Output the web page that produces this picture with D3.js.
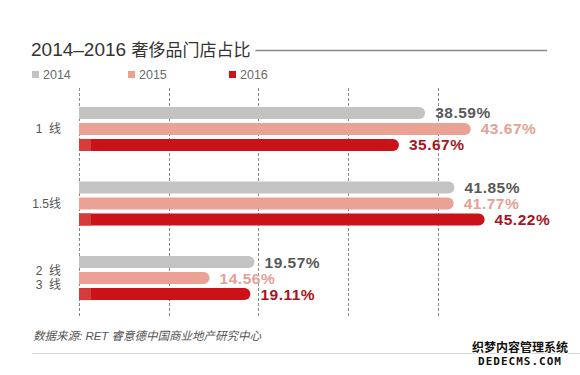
<!DOCTYPE html>
<html>
<head>
<meta charset="utf-8">
<script src="https://cdn.jsdelivr.net/npm/d3@7"></script>
<style>
  body { margin: 0; background: #fff; }
  svg { display: block; font-family: "Liberation Sans", "Noto Sans CJK SC", sans-serif; }
</style>
</head>
<body>
<div id="chart"></div>
<script>
const categories = ["1", "1.5", "2-3"];
const categoryLabels = [["1  线"], ["1.5线"], ["2  线", "3  线"]];
const years = ["2014", "2015", "2016"];
const values2014 = [38.59, 41.85, 19.57];
const values2015 = [43.67, 41.77, 14.56];
const values2016 = [35.67, 45.22, 19.11];
const gridTicks = [0, 10, 20, 30, 40];

const series = [values2014, values2015, values2016];
const barColors = ["#c3c3c3", "#e9a294", "#cc1219"];
const labelColors = ["#595959", "#e5a193", "#a8141c"];

const width = 580, height = 375;

const svg = d3.select("#chart")
    .append("svg")
    .attr("width", width)
    .attr("height", height);

// Title + rule
const title = svg.append("text")
    .attr("x", 31)
    .attr("y", 56)
    .attr("fill", "#333");
title.append("tspan")
    .attr("font-size", 19)
    .text("2014–2016 ");
title.append("tspan")
    .attr("font-size", 17)
    .attr("font-family", "Noto Sans CJK SC, sans-serif")
    .text("奢侈品门店占比");

const titleEnd = 31 + title.node().getComputedTextLength();
svg.append("line")
    .attr("x1", titleEnd + 5)
    .attr("x2", 547)
    .attr("y1", 50.5)
    .attr("y2", 50.5)
    .attr("stroke", "#8a8a8a")
    .attr("stroke-width", 1.5);

// Legend
const legendX = [32, 128, 229];
years.forEach((yr, i) => {
    const g = svg.append("g").attr("transform", `translate(${legendX[i]},79)`);
    g.append("rect")
        .attr("x", 0).attr("y", -8)
        .attr("width", 7).attr("height", 7)
        .attr("fill", barColors[i]);
    g.append("text")
        .attr("x", 11).attr("y", 0)
        .attr("font-size", 12.5)
        .attr("fill", "#6a6a6a")
        .text(yr);
});

// Scales
const x = d3.scaleLinear().domain([0, 10]).range([79, 168.7]);

const y = d3.scaleBand()
    .domain(categories)
    .range([92, 315])
    .paddingInner(0.41)
    .paddingOuter(0.2);

const barH = 12, barStep = 16;

// Grid lines
svg.append("g")
    .selectAll("line")
    .data(gridTicks)
    .join("line")
    .attr("x1", d => Math.round(x(d)) + 0.5)
    .attr("x2", d => Math.round(x(d)) + 0.5)
    .attr("y1", 88)
    .attr("y2", 316)
    .attr("stroke", "#888")
    .attr("stroke-width", 1)
    .attr("stroke-dasharray", "3,2");

// Bars with rounded right end
function barPath(x0, x1, y0, h) {
    const r = h / 2;
    return `M${x0},${y0} H${x1 - r} A${r},${r} 0 0 1 ${x1 - r},${y0 + h} H${x0} Z`;
}

const groups = svg.append("g")
    .selectAll("g")
    .data(categories)
    .join("g");

series.forEach((vals, si) => {
    const yOff = cat => y(cat) + (y.bandwidth() - (barStep * 2 + barH)) / 2 + si * barStep;

    groups.append("path")
        .attr("d", (c, i) => barPath(x(0), x(vals[i]), yOff(c), barH))
        .attr("fill", barColors[si]);

    if (si === 2) {
        groups.append("rect")
            .attr("x", x(0))
            .attr("y", c => yOff(c))
            .attr("width", 12)
            .attr("height", barH)
            .attr("fill", "#d63c3b");
    }

    groups.append("text")
        .attr("x", (c, i) => x(vals[i]) + 10)
        .attr("y", c => yOff(c) + barH / 2)
        .attr("dy", "0.36em")
        .attr("font-size", 15.5)
        .attr("font-weight", "bold")
        .attr("letter-spacing", 0.5)
        .attr("fill", labelColors[si])
        .text((c, i) => vals[i].toFixed(2) + "%");
});

// Category labels
groups.each(function(c, i) {
    const lines = categoryLabels[i];
    const cy = y(c) + y.bandwidth() / 2;
    lines.forEach((t, li) => {
        d3.select(this).append("text")
            .attr("x", 61)
            .attr("y", cy + (li - (lines.length - 1) / 2) * 14)
            .attr("dy", "0.36em")
            .attr("text-anchor", "end")
            .attr("font-size", 12)
            .attr("fill", "#555")
            .style("white-space", "pre")
            .text(t);
    });
});

// Source
svg.append("text")
    .attr("x", 33)
    .attr("y", 340)
    .attr("font-size", 11.5)
    .attr("font-style", "italic")
    .attr("fill", "#555")
    .text("数据来源: RET 睿意德中国商业地产研究中心");

svg.append("line")
    .attr("x1", 32).attr("x2", width)
    .attr("y1", 353.5).attr("y2", 353.5)
    .attr("stroke", "#d5d5d5");

// Watermark
const wm = svg.append("g")
    .attr("font-weight", "bold")
    .attr("text-anchor", "middle")
    .attr("stroke", "#fff")
    .attr("stroke-width", 2)
    .attr("paint-order", "stroke")
    .attr("fill", "#111");
wm.append("text")
    .attr("x", 520).attr("y", 352)
    .attr("font-size", 12)
    .attr("font-family", "Noto Sans CJK SC, sans-serif")
    .text("织梦内容管理系统");
wm.append("text")
    .attr("x", 520).attr("y", 365)
    .attr("font-size", 11)
    .attr("font-family", "DejaVu Sans Mono, monospace")
    .attr("letter-spacing", 1)
    .text("DEDECMS.COM");
</script>
</body>
</html>
